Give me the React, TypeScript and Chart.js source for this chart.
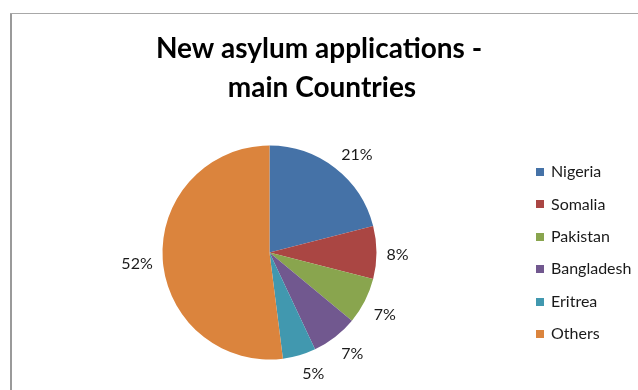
import React, { useEffect, useRef } from "react";
import { Chart, registerables } from "chart.js";

Chart.register(...registerables);

const titleLines = ["New asylum applications -", "main Countries"];
const countries = ["Nigeria", "Somalia", "Pakistan", "Bangladesh", "Eritrea", "Others"];
const shares = [21, 8, 7, 7, 5, 52];
const sliceColors = ["#4572A7", "#AA4643", "#89A54E", "#71588F", "#4198AF", "#DB843D"];

const FONT = "Lato, 'Open Sans', sans-serif";

const framePlugin = {
  id: "frame",
  beforeDraw(chart: any) {
    const { ctx, width, height } = chart;
    ctx.save();
    ctx.fillStyle = "#9a9a9a";
    ctx.fillRect(10, 13, 2, height - 13);
    ctx.fillStyle = "#a8a8a8";
    ctx.fillRect(10, 13, width - 10, 1);
    ctx.restore();
  },
};

const titlePlugin = {
  id: "titleText",
  afterDraw(chart: any) {
    const { ctx } = chart;
    ctx.save();
    ctx.fillStyle = "#000";
    ctx.font = `bold 28px ${FONT}`;
    ctx.textAlign = "center";
    ctx.textBaseline = "alphabetic";
    ctx.fillText(titleLines[0], 319, 58);
    ctx.fillText(titleLines[1], 322, 97);
    ctx.restore();
  },
};

const clamp = (v: number) => Math.max(-1, Math.min(1, v));

const labelPlugin = {
  id: "pctLabels",
  afterDatasetsDraw(chart: any) {
    const { ctx } = chart;
    const meta = chart.getDatasetMeta(0);
    const data = chart.data.datasets[0].data as number[];
    const total = data.reduce((a, b) => a + b, 0);
    ctx.save();
    ctx.fillStyle = "#1a1a1a";
    ctx.font = `16px ${FONT}`;
    ctx.textAlign = "center";
    ctx.textBaseline = "middle";
    meta.data.forEach((arc: any, i: number) => {
      const mid = (arc.startAngle + arc.endAngle) / 2;
      const text = Math.round((data[i] / total) * 100) + "%";
      const w = ctx.measureText(text).width / 2;
      const h = 7;
      const c = Math.cos(mid);
      const s = Math.sin(mid);
      const r = arc.outerRadius + 10;
      const x = arc.x + c * r + clamp(c * 4) * w;
      const y = arc.y + s * r + clamp(s * 4) * h + 2;
      ctx.fillText(text, x, y);
    });
    ctx.restore();
  },
};

const legendPlugin = {
  id: "sideLegend",
  afterDraw(chart: any) {
    const { ctx } = chart;
    const labels = chart.data.labels as string[];
    const colors = chart.data.datasets[0].backgroundColor as string[];
    ctx.save();
    ctx.font = `16px ${FONT}`;
    ctx.textAlign = "left";
    ctx.textBaseline = "middle";
    labels.forEach((lab, i) => {
      const cy = 172 + i * 32.4;
      ctx.fillStyle = colors[i];
      ctx.fillRect(536, Math.round(cy - 4), 8, 8);
      ctx.fillStyle = "#1a1a1a";
      ctx.fillText(lab, 551, cy);
    });
    ctx.restore();
  },
};

export default function App() {
  const ref = useRef<HTMLCanvasElement | null>(null);
  useEffect(() => {
    if (!ref.current) return;
    const chart = new Chart(ref.current, {
      type: "pie",
      data: {
        labels: countries,
        datasets: [
          {
            data: shares,
            backgroundColor: sliceColors,
            borderWidth: 0,
          },
        ],
      },
      options: {
        responsive: false,
        animation: false,
        layout: { padding: { left: 162.5, right: 261.5, top: 145.5, bottom: 30.5 } },
        plugins: {
          legend: { display: false },
          title: { display: false },
          tooltip: { enabled: false },
        },
      },
      plugins: [framePlugin, titlePlugin, labelPlugin, legendPlugin],
    });
    return () => chart.destroy();
  }, []);
  return (
    <div style={{ position: "fixed", left: 0, top: 0, width: 638, height: 390, background: "#fff" }}>
      <canvas ref={ref} width={638} height={390} style={{ display: "block" }} />
    </div>
  );
}
